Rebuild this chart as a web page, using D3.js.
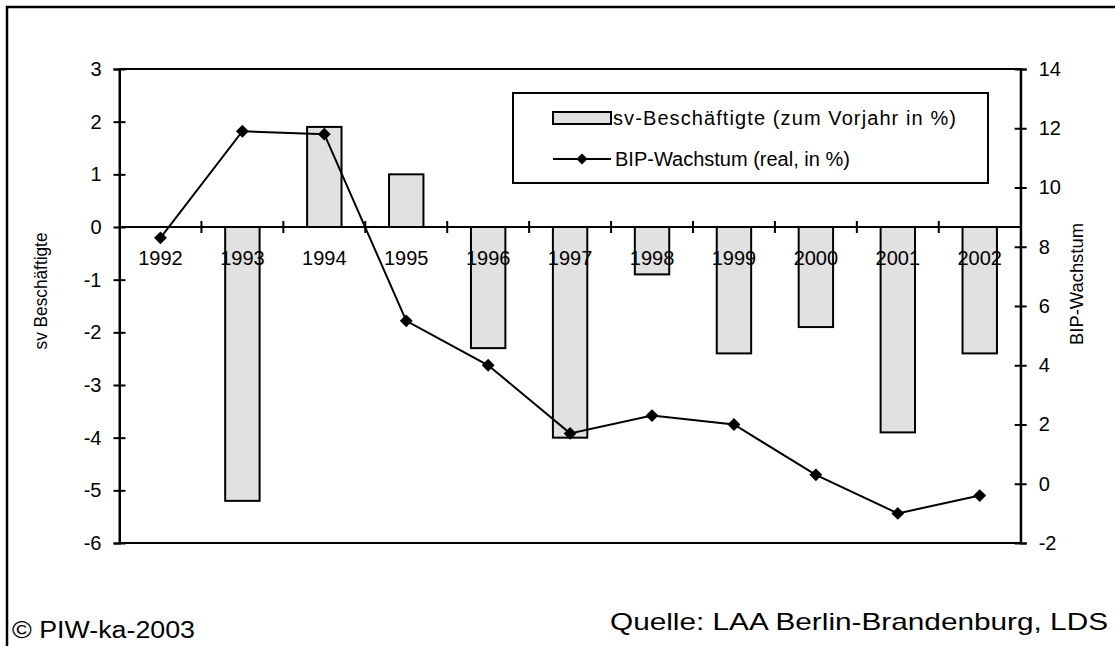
<!DOCTYPE html>
<html>
<head>
<meta charset="utf-8">
<script src="https://cdn.jsdelivr.net/npm/d3@7"></script>
<style>
    body { margin: 0; background: #fff; }
    svg { display: block; }
    text { font-family: "Liberation Sans", Arial, sans-serif; fill: #000; }
</style>
</head>
<body>
<svg id="chart" width="1115" height="646"></svg>
<script>
// data
const years = ["1992", "1993", "1994", "1995", "1996", "1997", "1998", "1999", "2000", "2001", "2002"];
const svBesch = [0, -5.2, 1.9, 1.0, -2.3, -4.0, -0.9, -2.4, -1.9, -3.9, -2.4];
const bipWachstum = [8.3, 11.9, 11.8, 5.5, 4.0, 1.7, 2.3, 2.0, 0.3, -1.0, -0.4];
const leftTicks = [-6, -5, -4, -3, -2, -1, 0, 1, 2, 3];
const rightTicks = [-2, 0, 2, 4, 6, 8, 10, 12, 14];

const conf = {
    left: 119.5,
    right: 1020.7,
    top: 69,
    bottom: 543,
    font: 20,
};

const svg = d3.select("#chart");

// outer frame (right and bottom sides run off the page)
svg.append("rect")
    .attr("x", 7).attr("y", 7)
    .attr("width", 1130).attr("height", 660)
    .attr("fill", "none")
    .attr("stroke", "#000")
    .attr("stroke-width", 2.5);

const x = d3.scaleBand().domain(years).range([conf.left, conf.right]);
const yL = d3.scaleLinear().domain([-6, 3]).range([conf.bottom, conf.top]);
const yR = d3.scaleLinear().domain([-2, 14]).range([conf.bottom, conf.top]);

const barW = x.bandwidth() * 0.42;
const fmt = d => String(d); // plain hyphen minus, like the original

// plot frame
svg.append("rect")
    .attr("x", conf.left).attr("y", conf.top)
    .attr("width", conf.right - conf.left)
    .attr("height", conf.bottom - conf.top)
    .attr("fill", "none")
    .attr("stroke", "#000")
    .attr("stroke-width", 2);

// bars
svg.append("g").selectAll("rect")
    .data(years.map((d, i) => ({ year: d, v: svBesch[i] })).filter(d => d.v !== 0))
    .join("rect")
    .attr("x", d => x(d.year) + (x.bandwidth() - barW) / 2)
    .attr("y", d => yL(Math.max(0, d.v)))
    .attr("width", barW)
    .attr("height", d => Math.abs(yL(d.v) - yL(0)))
    .attr("fill", "#e1e1e1")
    .attr("stroke", "#000")
    .attr("stroke-width", 2);

// left axis, ticks crossing the line
const axL = svg.append("g")
    .attr("transform", `translate(${conf.left},0)`)
    .call(d3.axisLeft(yL).tickValues(leftTicks).tickFormat(fmt).tickSize(6).tickPadding(12));
axL.select(".domain").attr("stroke-width", 2);
axL.selectAll(".tick line").attr("x1", 6).attr("stroke-width", 2);
axL.selectAll(".tick text")
    .style("font-size", conf.font + "px")
    .style("font-family", "Liberation Sans, Arial, sans-serif");

// right axis
const axR = svg.append("g")
    .attr("transform", `translate(${conf.right},0)`)
    .call(d3.axisRight(yR).tickValues(rightTicks).tickFormat(fmt).tickSize(6).tickPadding(12));
axR.select(".domain").attr("stroke-width", 2);
axR.selectAll(".tick line").attr("x1", -6).attr("stroke-width", 2);
axR.selectAll(".tick text")
    .style("font-size", conf.font + "px")
    .style("font-family", "Liberation Sans, Arial, sans-serif");

// zero line with ticks between the categories
const zero = yL(0);
svg.append("line")
    .attr("x1", conf.left).attr("x2", conf.right)
    .attr("y1", zero).attr("y2", zero)
    .attr("stroke", "#000").attr("stroke-width", 2);
svg.append("g").selectAll("line")
    .data(years.slice(1))
    .join("line")
    .attr("x1", d => x(d)).attr("x2", d => x(d))
    .attr("y1", zero - 6).attr("y2", zero + 6)
    .attr("stroke", "#000").attr("stroke-width", 2);
svg.append("g").selectAll("text")
    .data(years)
    .join("text")
    .attr("x", d => x(d) + x.bandwidth() / 2)
    .attr("y", zero + 38)
    .attr("text-anchor", "middle")
    .style("font-size", conf.font + "px")
    .text(d => d);

// BIP line with diamond markers
const cx = (d, i) => x(years[i]) + x.bandwidth() / 2;
svg.append("path")
    .datum(bipWachstum)
    .attr("fill", "none")
    .attr("stroke", "#000")
    .attr("stroke-width", 2)
    .attr("d", d3.line().x(cx).y(d => yR(d)));

const diamond = d3.symbol().type(d3.symbolDiamond2).size(105);
svg.append("g").selectAll("path")
    .data(bipWachstum)
    .join("path")
    .attr("transform", (d, i) => `translate(${cx(d, i)},${yR(d)})`)
    .attr("d", diamond)
    .attr("fill", "#000");

// axis titles
svg.append("text")
    .attr("transform", "translate(47,291) rotate(-90)")
    .attr("text-anchor", "middle")
    .attr("textLength", 117)
    .attr("lengthAdjust", "spacingAndGlyphs")
    .style("font-size", "19px")
    .text("sv Beschäftigte");
svg.append("text")
    .attr("transform", "translate(1083,284) rotate(-90)")
    .attr("text-anchor", "middle")
    .attr("textLength", 122)
    .attr("lengthAdjust", "spacingAndGlyphs")
    .style("font-size", "19px")
    .text("BIP-Wachstum");

// legend
const lg = svg.append("g");
lg.append("rect")
    .attr("x", 513).attr("y", 93)
    .attr("width", 475).attr("height", 90)
    .attr("fill", "#fff")
    .attr("stroke", "#000")
    .attr("stroke-width", 2);
lg.append("rect")
    .attr("x", 553).attr("y", 112)
    .attr("width", 58).attr("height", 12)
    .attr("fill", "#e1e1e1")
    .attr("stroke", "#000")
    .attr("stroke-width", 2);
lg.append("text")
    .attr("x", 613).attr("y", 125)
    .attr("textLength", 343)
    .attr("lengthAdjust", "spacing")
    .style("font-size", "20px")
    .text("sv-Beschäftigte (zum Vorjahr in %)");
lg.append("line")
    .attr("x1", 553).attr("x2", 611)
    .attr("y1", 159).attr("y2", 159)
    .attr("stroke", "#000").attr("stroke-width", 2);
lg.append("path")
    .attr("transform", "translate(582,159)")
    .attr("d", d3.symbol().type(d3.symbolDiamond2).size(80))
    .attr("fill", "#000");
lg.append("text")
    .attr("x", 615).attr("y", 166)
    .style("font-size", "20px")
    .text("BIP-Wachstum (real, in %)");

// footer texts
svg.append("text")
    .attr("x", 1108).attr("y", 630)
    .attr("text-anchor", "end")
    .attr("textLength", 498)
    .attr("lengthAdjust", "spacingAndGlyphs")
    .style("font-size", "24px")
    .text("Quelle: LAA Berlin-Brandenburg, LDS");
svg.append("text")
    .attr("x", 12).attr("y", 638)
    .attr("textLength", 183)
    .attr("lengthAdjust", "spacingAndGlyphs")
    .style("font-size", "23px")
    .text("© PIW-ka-2003");
</script>
</body>
</html>
